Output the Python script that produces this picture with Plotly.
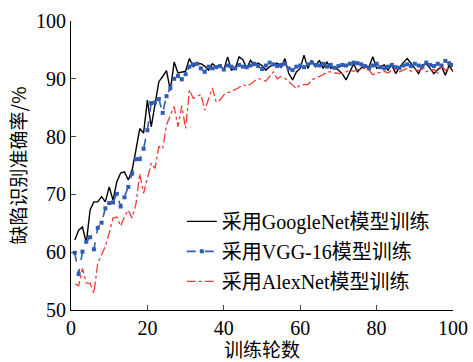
import plotly.graph_objects as go

epochs = list(range(1, 101))

googlenet = [62.1, 63.8, 64.4, 61.6, 67.3, 68.7, 68.7, 69.6, 68.7, 71.3,
             69.0, 72.2, 73.7, 73.9, 72.5, 74.2, 77.7, 81.4, 80.6, 86.3,
             81.7, 85.8, 89.5, 90.4, 91.4, 88.0, 92.9, 91.0, 91.1, 91.3,
             93.5, 92.1, 92.6, 92.6, 92.2, 91.5, 92.6, 92.1, 92.4, 91.5,
             93.8, 91.5, 91.8, 93.8, 93.3, 91.8, 93.2, 92.3, 92.7, 92.3,
             91.5, 92.1, 92.4, 92.7, 92.0, 93.5, 90.9, 89.8, 91.2, 91.8,
             94.1, 91.8, 93.2, 92.1, 93.2, 91.8, 92.9, 91.8, 92.1, 91.5,
             90.9, 89.8, 91.2, 92.6, 91.2, 91.9, 92.3, 92.0, 93.8, 91.8,
             92.1, 92.4, 91.5, 92.4, 90.9, 92.0, 92.8, 93.5, 92.7, 91.8,
             90.9, 92.4, 92.6, 91.8, 90.9, 91.6, 92.1, 90.6, 92.4, 91.2]

vgg16 = [59.9, 56.2, 60.1, 61.8, 62.6, 60.5, 64.2, 65.1, 67.6, 68.5,
         68.6, 70.1, 67.9, 69.5, 71.3, 73.6, 76.1, 76.1, 77.9, 81.1,
         85.8, 85.9, 86.5, 84.1, 87.0, 88.4, 90.0, 90.5, 89.9, 90.8,
         92.1, 92.5, 92.6, 91.8, 91.2, 92.1, 91.8, 92.0, 92.2, 91.6,
         92.3, 92.1, 91.8, 92.4, 92.1, 92.0, 92.3, 92.6, 92.2, 91.7,
         92.3, 92.8, 92.5, 92.2, 92.4, 92.6, 91.8, 91.5, 92.1, 92.3,
         92.0, 92.5, 92.8, 92.4, 92.3, 92.6, 92.1, 92.4, 91.9, 92.2,
         92.4, 92.3, 92.6, 92.8, 92.7, 92.5, 92.2, 91.8, 92.3, 92.6,
         92.0, 91.8, 92.1, 92.4, 92.0, 91.9, 92.3, 92.5, 92.2, 92.6,
         92.3, 92.1, 92.8, 92.4, 92.2, 92.6, 92.3, 93.1, 92.7, 92.4]

alexnet = [54.5, 54.2, 57.2, 54.7, 54.6, 52.9, 58.1, 59.5, 61.0, 63.3,
           65.9, 66.1, 64.5, 66.1, 67.3, 65.9, 68.3, 73.6, 70.2, 72.8,
           75.4, 74.5, 78.3, 77.9, 82.0, 83.7, 85.2, 81.7, 85.3, 81.4,
           88.1, 86.6, 86.9, 87.3, 84.6, 86.7, 88.4, 86.0, 86.3, 87.2,
           87.6, 87.8, 88.1, 88.5, 89.0, 88.7, 89.1, 89.6, 90.1, 89.8,
           89.6, 90.4, 91.2, 90.0, 90.4, 90.1, 89.5, 88.8, 88.3, 89.0,
           89.0, 89.0, 89.8, 90.1, 90.4, 90.7, 91.2, 91.2, 91.0, 90.9,
           90.9, 91.2, 91.5, 91.3, 91.6, 91.8, 91.8, 91.5, 90.7, 91.0,
           91.1, 91.3, 91.0, 91.5, 91.7, 91.2, 91.5, 91.8, 91.3, 91.6,
           91.4, 91.7, 91.2, 91.5, 91.6, 91.0, 92.3, 91.5, 91.8, 91.3]

names = ["采用GoogleNet模型训练", "采用VGG-16模型训练", "采用AlexNet模型训练"]
x_ticks = [0, 20, 40, 60, 80, 100]
y_ticks = [50, 60, 70, 80, 90, 100]

FONT = "Liberation Serif, Noto Sans CJK SC, serif"

fig = go.Figure()
fig.add_trace(go.Scatter(x=epochs, y=googlenet, mode="lines", name=names[0],
                         legendgroup="a",
                         line=dict(color="black", width=1.4)))
fig.add_trace(go.Scatter(x=epochs, y=vgg16, mode="lines+markers", name=names[1],
                         legendgroup="b",
                         line=dict(color="#2f5cb4", width=1.6, dash="dash"),
                         marker=dict(symbol="square", size=4, color="#2f5cb4")))
fig.add_trace(go.Scatter(x=epochs, y=alexnet, mode="lines", name=names[2],
                         legendgroup="c",
                         line=dict(color="#f03a3a", width=1.3, dash="dashdot")))

fig.update_layout(
    width=473, height=362,
    margin=dict(l=71, r=20, t=21, b=52, autoexpand=False),
    plot_bgcolor="white", paper_bgcolor="white",
    font=dict(family=FONT, size=20, color="black"),
    showlegend=True,
    legend=dict(x=0.29, y=0.203, xanchor="left", yanchor="middle",
                bgcolor="rgba(0,0,0,0)", font=dict(size=20),
                tracegroupgap=1, itemwidth=30),
    xaxis=dict(range=[0, 100], tickvals=x_ticks, ticks="inside", ticklen=5,
               showline=True, linecolor="black", linewidth=1.2, mirror=False,
               showgrid=False, zeroline=False, automargin=False,
               title=dict(text="训练轮数", standoff=2,
                          font=dict(family="Noto Sans CJK SC", size=19))),
    yaxis=dict(range=[50, 100], tickvals=y_ticks, ticks="inside", ticklen=5,
               showline=True, linecolor="black", linewidth=1.2, mirror=False,
               showgrid=False, zeroline=False, automargin=False,
               title=dict(text="缺陷识别准确率/%", standoff=4,
                          font=dict(family="Noto Sans CJK SC", size=19))),
)

fig.write_html("out.html")
